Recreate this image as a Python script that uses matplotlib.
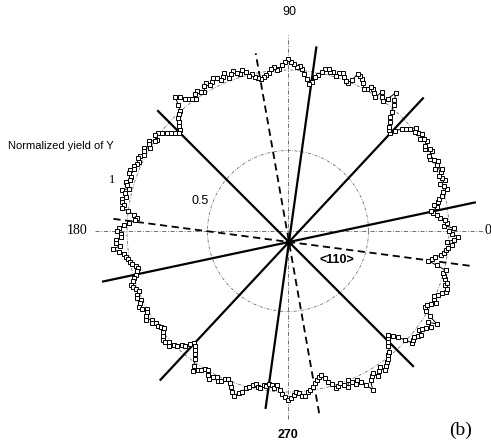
import numpy as np
import matplotlib
matplotlib.use("Agg")
import matplotlib.pyplot as plt

# angle (deg) of each measurement and normalized yield
angles = np.arange(0, 360, 1)
yield_y = [
    1.00, 1.03, 0.97, 0.99, 0.975, 0.95, 0.93, 0.91, 0.90, 0.94, 0.92, 0.95, 0.956, 0.98, 0.99, 1.02, 1.01, 0.99, 1.025, 1.01,
    1.00, 1.02, 1.03, 0.99, 1.01, 1.03, 1.01, 0.99, 0.99, 1.02, 1.02, 0.99, 1.00, 1.03, 1.02, 1.00, 1.03, 1.01, 1.00, 1.02,
    0.99, 0.97, 0.95, 0.91, 0.88, 0.89, 0.90, 0.93, 0.95, 0.98, 1.02, 1.05, 1.09, 1.03, 1.00, 1.02, 1.04, 0.99, 1.01, 1.03,
    1.03, 1.01, 1.00, 1.03, 1.05, 1.06, 1.07, 1.02, 0.99, 1.00, 1.02, 1.04, 1.03, 1.01, 1.025, 1.02, 1.04, 1.03, 1.01, 0.99,
    0.97, 0.94, 0.92, 0.95, 0.98, 1.01, 1.03, 1.02, 1.04, 1.05, 1.07, 1.05, 1.03, 1.01, 1.00, 1.02, 1.01, 0.99, 0.98, 0.97,
    0.96, 0.97, 0.98, 1.00, 0.99, 1.02, 1.04, 1.02, 1.03, 1.05, 1.04, 1.02, 1.06, 1.04, 1.03, 1.05, 1.056, 1.04, 1.03, 1.05,
    1.04, 1.01, 1.02, 1.04, 1.03, 1.00, 1.01, 1.03, 1.04, 1.07, 1.09, 1.04, 1.00, 0.99, 0.98, 0.96, 0.94, 0.92, 0.91, 0.93,
    0.95, 0.97, 0.99, 1.01, 1.02, 0.99, 1.00, 1.03, 1.02, 1.00, 1.03, 1.02, 1.01, 1.03, 1.04, 1.02, 1.025, 1.04, 1.03, 1.05,
    1.05, 1.03, 1.03, 1.05, 1.04, 1.02, 1.06, 1.04, 1.03, 1.05, 1.05, 1.03, 1.04, 1.00, 0.96, 0.94, 0.95, 0.99, 1.02, 1.05,
    1.06, 1.04, 1.04, 1.07, 1.07, 1.05, 1.09, 1.06, 1.03, 1.02, 1.01, 1.00, 0.99, 0.97, 0.96, 0.97, 0.98, 1.00, 1.01, 1.03,
    1.025, 1.01, 1.00, 1.02, 1.03, 1.01, 1.02, 1.04, 1.03, 1.00, 1.01, 1.03, 1.04, 1.01, 1.02, 1.00, 1.00, 0.99, 0.98, 1.00,
    1.01, 1.03, 1.03, 1.01, 1.03, 1.00, 0.99, 0.97, 0.96, 0.93, 0.91, 0.92, 0.94, 0.96, 0.98, 1.02, 1.05, 1.03, 1.02, 1.00,
    1.00, 1.02, 1.04, 1.02, 1.01, 1.03, 1.02, 1.00, 0.99, 1.01, 1.03, 1.06, 1.08, 1.05, 1.04, 1.01, 1.00, 0.98, 0.97, 0.99,
    0.99, 0.97, 0.975, 0.96, 0.96, 0.98, 0.96, 0.99, 1.01, 1.03, 1.05, 1.04, 1.02, 1.00, 1.01, 1.03, 1.03, 1.01, 1.00, 0.98,
    0.96, 0.94, 0.93, 0.92, 0.94, 0.97, 0.99, 1.02, 1.01, 1.00, 1.02, 1.04, 1.00, 1.02, 1.04, 1.02, 1.04, 1.07, 1.12, 1.06,
    1.04, 1.03, 1.06, 1.04, 1.02, 1.05, 1.04, 1.02, 1.01, 0.99, 0.98, 0.95, 0.93, 0.91, 0.895, 0.92, 0.95, 0.99, 1.04, 1.03,
    1.02, 1.04, 1.05, 1.02, 1.03, 1.05, 1.07, 1.04, 1.09, 1.03, 0.99, 0.97, 0.98, 1.00, 1.02, 1.00, 0.99, 1.01, 1.03, 1.05,
    1.05, 1.03, 1.04, 1.02, 1.01, 1.00, 1.01, 0.95, 0.89, 0.91, 0.93, 0.96, 0.98, 0.99, 1.00, 1.02, 0.99, 1.03, 1.056, 1.02,
]

# channel directions (deg)
solid_dirs = [135, 47, 82, 12]
dashed_dirs = [-7.5, 100]

fig = plt.figure(figsize=(4.91, 4.45), dpi=100)
ax = fig.add_axes([0, 0, 1, 1])
ax.set_xlim(-1.789, 1.261)
ax.set_ylim(-1.329, 1.435)
ax.axis("off")

# reference circles and axes
t = np.linspace(0, 2 * np.pi, 400)
for rr in [0.5, 1.0]:
    ax.plot(rr * np.cos(t), rr * np.sin(t), color="0.4", lw=0.55,
            linestyle=(0, (4, 2, 1, 2)))
ax.plot([-1.20, 1.22], [0, 0], color="0.35", lw=0.6, linestyle=(0, (5, 2, 1, 2)))
ax.plot([0, 0], [-1.17, 1.22], color="0.35", lw=0.6, linestyle=(0, (5, 2, 1, 2)))

# channel lines, they meet a bit below the centre
cx, cy = 0.006, -0.068
solid_len = [(1.15, 1.09), (1.22, 1.17), (1.22, 1.04), (1.18, 1.18)]
for d, (l1, l2) in zip(solid_dirs, solid_len):
    a = np.radians(d)
    ax.plot([cx - l2 * np.cos(a), cx + l1 * np.cos(a)],
            [cy - l2 * np.sin(a), cy + l1 * np.sin(a)], color="black", lw=1.6)
dashed_len = [(1.15, 1.10), (1.19, 1.08)]
for d, (l1, l2) in zip(dashed_dirs, dashed_len):
    a = np.radians(d)
    ax.plot([cx - l2 * np.cos(a), cx + l1 * np.cos(a)],
            [cy - l2 * np.sin(a), cy + l1 * np.sin(a)], color="black", lw=1.3,
            linestyle=(0, (4, 2.5)))
ax.plot(cx, cy, "o", color="black", ms=4)

# measured yield
th = np.radians(np.append(angles, angles[0]))
r = np.append(yield_y, yield_y[0])
ax.plot(r * np.cos(th), r * np.sin(th), color="black", lw=0.7,
        marker="s", ms=3.0, mfc="white", mec="black", mew=0.7)

# labels
ax.text(0.006, 1.36, "90", ha="center", va="center", fontsize=9, family="Liberation Sans")
ax.text(0.0, -1.265, "270", ha="center", va="center", fontsize=9,
        family="Liberation Sans", fontweight="bold")
ax.text(-1.31, 0.006, "180", ha="center", va="center", fontsize=10, family="Liberation Serif")
ax.text(1.24, 0.006, "0", ha="center", va="center", fontsize=10, family="Liberation Serif")
ax.text(1.07, -1.24, "(b)", ha="center", va="center", fontsize=14, family="Liberation Serif")
ax.text(-1.74, 0.53, "Normalized yield of Y", ha="left", va="center", fontsize=8,
        family="Liberation Sans")
ax.text(-1.095, 0.32, "1", ha="center", va="center", fontsize=9, family="Liberation Serif")
ax.text(-0.545, 0.185, "0.5", ha="center", va="center", fontsize=9, family="Liberation Sans")
ax.text(0.305, -0.18, "<110>", ha="center", va="center", fontsize=9,
        family="Liberation Sans", fontweight="bold")

fig.savefig("out.png", dpi=100)
